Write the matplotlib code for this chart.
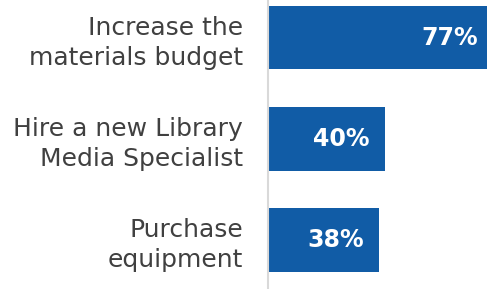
import matplotlib
matplotlib.use("Agg")
import matplotlib.pyplot as plt

# Datos del gráfico
categorias = ["Increase the\nmaterials budget",
              "Hire a new Library\nMedia Specialist",
              "Purchase\nequipment"]
valores = [77, 40, 38]
etiquetas = ["77%", "40%", "38%"]

fig = plt.figure(figsize=(4.87, 2.89), dpi=100)
ax = fig.add_axes([268 / 487, 0, 1 - 268 / 487, 1])

pos = list(range(len(categorias)))
barras = ax.barh(pos, valores, height=0.63, color="#115CA6")

ax.set_xlim(0, 75)
ax.set_ylim(2.485, -0.371)

# etiquetas de valor dentro de las barras
for p, v, txt in zip(pos, valores, etiquetas):
    ax.annotate(txt, xy=(v, p), xytext=(-11, 0), textcoords="offset points",
                ha="right", va="center", color="white",
                fontsize=17, fontweight="bold", annotation_clip=False,
                clip_on=False)

ax.set_yticks(pos)
ax.set_yticklabels(categorias, fontsize=18, color="#404040", ha="right",
                   linespacing=1.3)
ax.tick_params(axis="y", length=0, pad=18)
ax.set_xticks([])

for s in ["top", "right", "bottom"]:
    ax.spines[s].set_visible(False)
ax.spines["left"].set_color("#d9d9d9")
ax.spines["left"].set_linewidth(1.5)

fig.savefig("out.png", dpi=100)
